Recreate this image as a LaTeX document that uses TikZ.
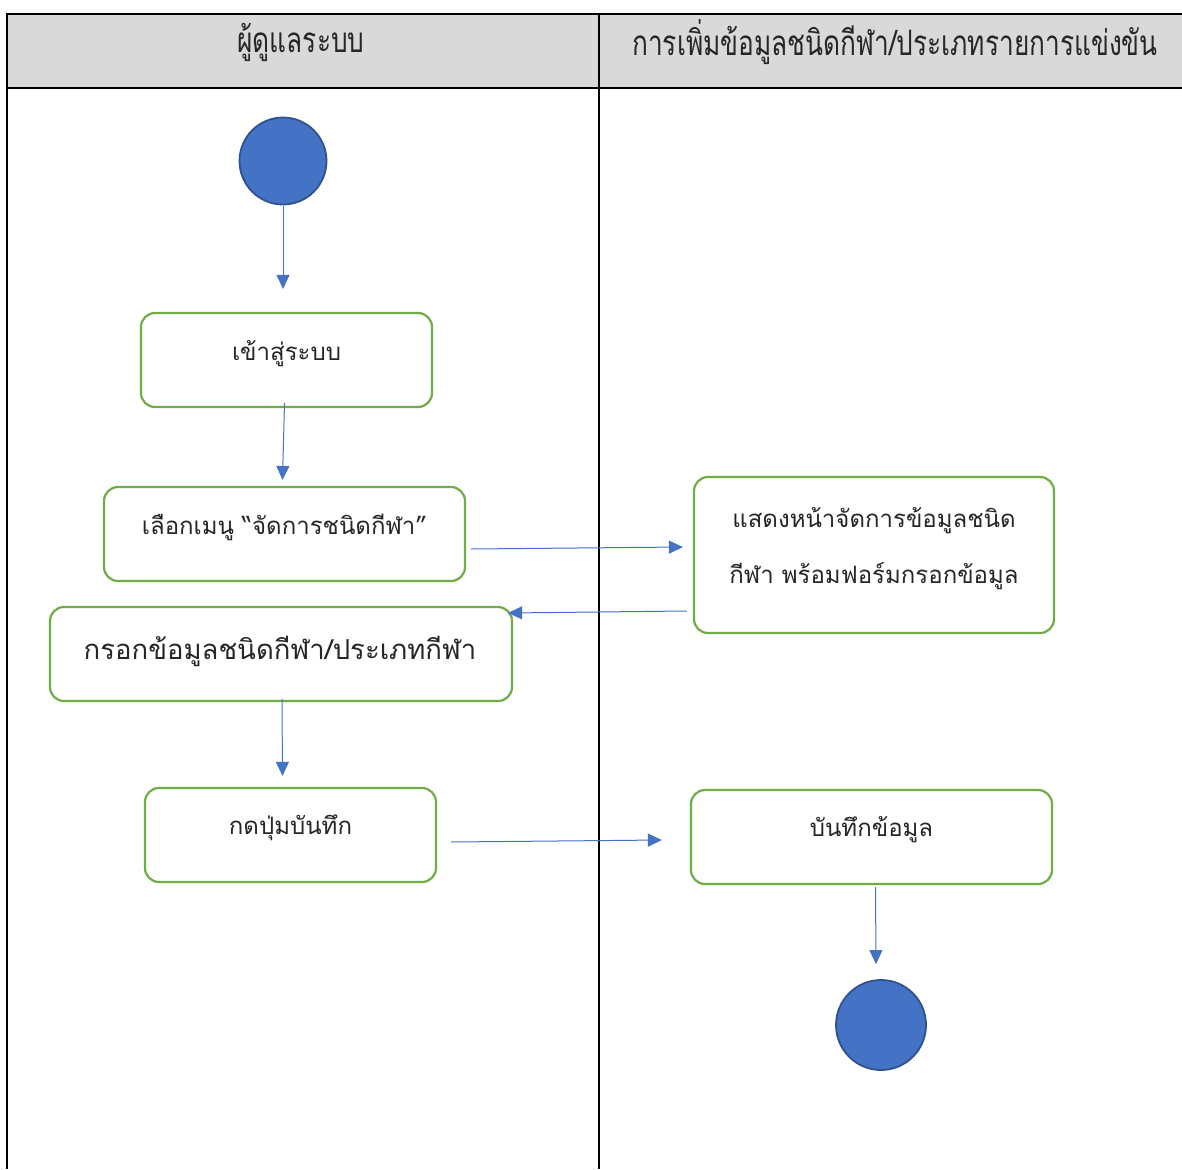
\documentclass[tikz,border=0pt]{standalone}
\usepackage{fontspec}
\newfontfamily\thai[Script=Thai]{Loma}
\newfontfamily\thaicond[Script=Thai,FakeStretch=0.75]{Loma}
\usetikzlibrary{arrows.meta}
\definecolor{ublue}{HTML}{4472C4}
\definecolor{ubord}{HTML}{2F528F}
\definecolor{ugreen}{HTML}{70AD47}
\definecolor{hgray}{HTML}{D9D9D9}
\begin{document}
\begin{tikzpicture}[x=1pt,y=-1pt,
  act/.style={draw=ugreen,line width=2.2pt,rounded corners=14pt,fill=white,inner sep=0pt},
  lbl/.style={inner sep=0pt,font=\thai\fontsize{24}{30}\selectfont,text=black!85},
  dot/.style={circle,fill=ublue,draw=ubord,line width=1.8pt,inner sep=0pt},
  arr/.style={draw=ublue,line width=1pt,-{Triangle[length=14pt,width=13pt]}},
  hdr/.style={font=\thaicond\fontsize{35}{38}\selectfont,text=black!85}]
\useasboundingbox (0,0) rectangle (1182,1169);
% swimlane frame
\fill[hgray] (7,14) rectangle (1182,88);
\draw[line width=2pt] (1182,14) -- (7,14) -- (7,1169);
\draw[line width=2pt] (7,88) -- (1182,88);
\draw[line width=2pt] (599,14) -- (599,1169);
\node[hdr] (h1) at (301,42) {ผู้ดูแลระบบ};
\node[hdr] (h2) at (895,42) {การเพิ่มข้อมูลชนิดกีฬา/ประเภทรายการแข่งขัน};
% nodes
\node[dot,minimum size=87pt] (start) at (283,161) {};
\node[act,minimum width=291pt,minimum height=94pt] (b1) at (286.5,360) {};
\node[lbl] (t1) at (286.5,354) {เข้าสู่ระบบ};
\node[act,minimum width=361pt,minimum height=94pt] (b2) at (284.5,534) {};
\node[lbl] (t2) at (284.5,527) {เลือกเมนู “จัดการชนิดกีฬา”};
\node[act,minimum width=360pt,minimum height=156pt] (b3) at (874,555) {};
\node[lbl] (t3a) at (874,521) {แสดงหน้าจัดการข้อมูลชนิด};
\node[lbl] (t3b) at (874,576) {กีฬา พร้อมฟอร์มกรอกข้อมูล};
\node[act,minimum width=462pt,minimum height=94pt] (b4) at (281,654) {};
\node[lbl,font=\thai\fontsize{27.5}{34}\selectfont] (t4) at (280,651) {กรอกข้อมูลชนิดกีฬา/ประเภทกีฬา};
\node[act,minimum width=291pt,minimum height=94pt] (b5) at (290.5,835) {};
\node[lbl] (t5) at (290.5,828) {กดปุ่มบันทึก};
\node[act,minimum width=361pt,minimum height=94pt] (b6) at (871.5,837) {};
\node[lbl] (t6) at (871.5,830) {บันทึกข้อมูล};
\node[dot,minimum size=90pt] (end) at (881,1025) {};
% connectors
\draw[arr] ([yshift=-1pt]start.south) -- ([xshift=-3.5pt,yshift=23pt]b1.north);
\draw[arr] ([xshift=-2pt,yshift=5pt]b1.south) -- ([xshift=-2pt,yshift=6pt]b2.north);
\draw[arr] ([xshift=5pt,yshift=-15pt]b2.east) -- ([xshift=-10pt,yshift=8pt]b3.west);
\draw[arr] ([xshift=-6pt,yshift=-56pt]b3.west) -- ([xshift=-5pt,yshift=41pt]b4.east);
\draw[arr] ([xshift=1pt,yshift=3pt]b4.south) -- ([xshift=-8pt,yshift=11pt]b5.north);
\draw[arr] ([xshift=14pt,yshift=-7pt]b5.east) -- ([xshift=-28pt,yshift=-3pt]b6.west);
\draw[arr] ([xshift=4pt,yshift=-2pt]b6.south) -- ([xshift=-5pt,yshift=15pt]end.north);
\end{tikzpicture}
\end{document}
